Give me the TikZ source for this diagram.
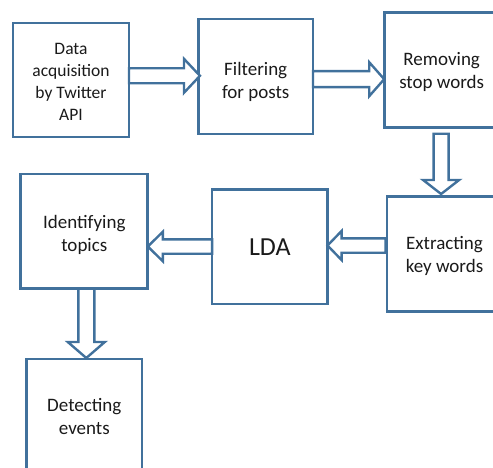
\documentclass[tikz,border=0pt]{standalone}
\usepackage{fontspec}
\setmainfont{Carlito}
\usetikzlibrary{calc}
\definecolor{bord}{HTML}{41719C}
\definecolor{txt}{HTML}{1A1A1A}
\newcommand{\topstrut}[1]{\rule{0pt}{#1}}
\tikzset{
  box/.style={draw=bord, fill=white, line width=2.8pt, inner sep=0pt, outer sep=0pt,
    align=center, text=txt, font=\fontsize{19}{23}\selectfont},
  barrow/.style={draw=bord, fill=white, line width=2.4pt, line join=miter},
}
\begin{document}
\begin{tikzpicture}[x=1pt,y=-1pt]
\path[use as bounding box, clip] (0,0) rectangle (493,468);
\node[box, minimum width=116pt, minimum height=114pt, font=\fontsize{17.5}{22}\selectfont] (b1) at (71,80) {\topstrut{16pt}Data\\acquisition\\by Twitter\\API};
\node[box, minimum width=114.5pt, minimum height=115pt] (b2) at (255.7,76.5) {\topstrut{25pt}Filtering\\for posts};
\node[box, minimum width=115pt, minimum height=114.6pt] (b3) at (441.7,70) {\topstrut{18pt}Removing\\stop words};
\node[box, minimum width=115pt, minimum height=115pt] (b4) at (444.5,254) {\topstrut{18pt}Extracting\\key words};
\node[box, minimum width=115.5pt, minimum height=114.7pt, font=\fontsize{26}{30}\selectfont] (b5) at (269.8,246.7) {LDA};
\node[box, minimum width=127pt, minimum height=114.7pt] (b6) at (84.3,231.3) {\topstrut{20pt}Identifying\\topics};
\node[box, minimum width=115.3pt, minimum height=115pt] (b7) at (84.3,416.5) {Detecting\\events};
% right arrow b1 -> b2
\draw[barrow] let \p1=($(b1.east)+(0,-4.2)$), \p2=($(b2.west)+(1.5,-0.7)$) in
  (\x1,\y1+7.5) -- (\x2-16,\y1+7.5) -- (\x2-16,\y1+17) -- (\x2,\y1) -- (\x2-16,\y1-17) -- (\x2-16,\y1-7.5) -- (\x1,\y1-7.5) -- cycle;
% right arrow b2 -> b3
\draw[barrow] let \p1=($(b2.east)+(0,2.7)$), \p2=(b3.west) in
  (\x1,\y1+8) -- (\x2-15,\y1+8) -- (\x2-15,\y1+17) -- (\x2,\y1) -- (\x2-15,\y1-17) -- (\x2-15,\y1-8) -- (\x1,\y1-8) -- cycle;
% down arrow b3 -> b4
\draw[barrow] let \p1=($(b3.south)+(-0.6,6.5)$), \p2=($(b4.north)+(0,-2.5)$) in
  (\x1-7.5,\y1) -- (\x1-7.5,\y2+14) -- (\x1-18,\y2+14) -- (\x1,\y2) -- (\x1+18,\y2+14) -- (\x1+7.5,\y2+14) -- (\x1+7.5,\y1) -- cycle;
% left arrow b4 -> b5
\draw[barrow] let \p1=($(b4.west)+(-1.5,-8.5)$), \p2=(b5.east) in
  (\x1,\y1+7.2) -- (\x2+14,\y1+7.2) -- (\x2+14,\y1+14.5) -- (\x2,\y1) -- (\x2+14,\y1-14.5) -- (\x2+14,\y1-7.2) -- (\x1,\y1-7.2) -- cycle;
% left arrow b5 -> b6
\draw[barrow] let \p1=($(b5.west)+(0,-0.2)$), \p2=(b6.east) in
  (\x1,\y1+7.2) -- (\x2+15,\y1+7.2) -- (\x2+15,\y1+14.7) -- (\x2,\y1) -- (\x2+15,\y1-14.7) -- (\x2+15,\y1-7.2) -- (\x1,\y1-7.2) -- cycle;
% down arrow b6 -> b7
\draw[barrow] let \p1=($(b6.south)+(2,0)$), \p2=($(b7.north)+(0,-1)$) in
  (\x1-8,\y1) -- (\x1-8,\y2+16) -- (\x1-18.5,\y2+16) -- (\x1,\y2) -- (\x1+18.5,\y2+16) -- (\x1+8,\y2+16) -- (\x1+8,\y1) -- cycle;
\end{tikzpicture}
\end{document}
